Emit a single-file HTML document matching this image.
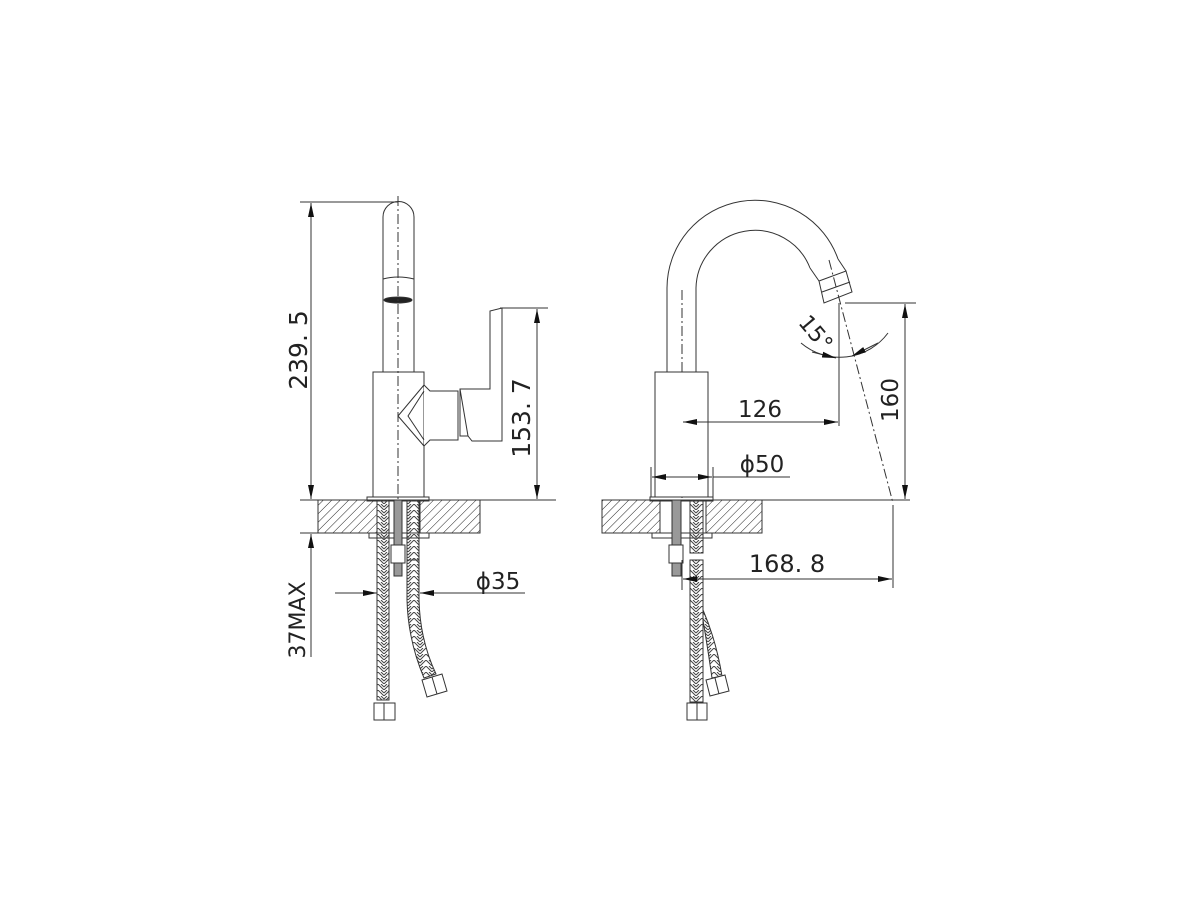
<!DOCTYPE html>
<html><head><meta charset="utf-8"><style>
html,body{margin:0;padding:0;background:#fff;}
svg{display:block;}
text{font-family:"DejaVu Sans","Liberation Sans",sans-serif;fill:#222;}
</style></head><body>
<svg width="1200" height="900" viewBox="0 0 1200 900" xmlns="http://www.w3.org/2000/svg">
<defs>
<pattern id="hatch" width="6" height="6" patternUnits="userSpaceOnUse" patternTransform="rotate(45)">
<line x1="0" y1="0" x2="0" y2="6" stroke="#222" stroke-width="1"/>
</pattern>
<pattern id="braid" width="12" height="6" patternUnits="userSpaceOnUse">
<polyline points="0,6 6,0 12,6" fill="none" stroke="#444" stroke-width="1"/>
<polyline points="0,3 3,0" fill="none" stroke="#444" stroke-width="1"/>
<polyline points="9,0 12,3" fill="none" stroke="#444" stroke-width="1"/>
</pattern>
<marker id="ar" viewBox="0 0 14 6" refX="14" refY="3" markerWidth="14" markerHeight="6" orient="auto" markerUnits="userSpaceOnUse">
<path d="M0,0 L14,3 L0,6 z" fill="#111"/>
</marker>
</defs>
<g fill="none" stroke="#333" stroke-width="1">

<!-- ===== LEFT VIEW ===== -->
<path d="M383,372 L383,217 A15.5,15.5 0 0 1 414,217 L414,372" fill="#fff"/>
<path d="M383,279 Q398,275 414,279"/>
<ellipse cx="398" cy="300" rx="14" ry="3" fill="#222"/>
<rect x="373" y="372" width="51" height="125" fill="#fff"/>
<rect x="367" y="497" width="62" height="4"/>
<path d="M424,385 L430,391 L458,391 L458,440 L430,440 L424,446" fill="#fff"/>
<path d="M424,385 L398,416 L424,446"/>
<path d="M424,391 L408,416 L424,440"/>
<path d="M460,389 L490,389 L490,311 L502,308 L502,441 L472,441 L468,436 L460,436 Z" fill="#fff"/>
<path d="M460,389 L468,436"/>
<line x1="398" y1="196" x2="398" y2="500" stroke-dasharray="10,3,2,3"/>
<line x1="300" y1="202" x2="398" y2="202"/>
<line x1="311" y1="330" x2="311" y2="203" marker-end="url(#ar)"/>
<line x1="311" y1="330" x2="311" y2="499" marker-end="url(#ar)"/>
<line x1="500" y1="308" x2="548" y2="308"/>
<line x1="537" y1="400" x2="537" y2="309" marker-end="url(#ar)"/>
<line x1="537" y1="400" x2="537" y2="499" marker-end="url(#ar)"/>
<line x1="300" y1="500" x2="318" y2="500"/>
<line x1="480" y1="500" x2="556" y2="500"/>
<rect x="318" y="500" width="59" height="33" fill="url(#hatch)"/>
<rect x="420" y="500" width="60" height="33" fill="url(#hatch)"/>
<line x1="318" y1="500" x2="480" y2="500"/>
<line x1="318" y1="533" x2="480" y2="533"/>
<rect x="369" y="533" width="60" height="5" fill="#fff"/>
<rect x="394" y="500" width="8" height="76" fill="#999"/>
<rect x="391" y="545" width="14" height="18" fill="#fff"/>
<rect x="377" y="500" width="12" height="200" fill="url(#braid)"/>
<rect x="407" y="500" width="12" height="60" fill="url(#braid)"/>
<path d="M407,560 L407,600 Q408,640 424,678 L436,674 Q420,640 419,600 L419,560 Z" fill="url(#braid)"/>
<path d="M374,703 L395,703 L395,720 L374,720 Z" fill="#fff"/>
<line x1="384" y1="703" x2="384" y2="720"/>
<path d="M422,680 L442,674 L447,691 L427,697 Z" fill="#fff"/>
<line x1="432" y1="677" x2="437" y2="694"/>
<line x1="300" y1="533" x2="318" y2="533"/>
<line x1="311" y1="600" x2="311" y2="534" marker-end="url(#ar)"/>
<line x1="311" y1="600" x2="311" y2="657"/>
<line x1="335" y1="593" x2="377" y2="593" marker-end="url(#ar)"/>
<line x1="525" y1="593" x2="420" y2="593" marker-end="url(#ar)"/>

<!-- ===== RIGHT VIEW ===== -->
<path d="M667,372 L667,288 A88,88 0 0 1 838,259" fill="none"/>
<path d="M696,372 L696,288 A59,59 0 0 1 810,268" fill="none"/>
<path d="M838,259 L846,271 M810,268 L819,281"/>
<path d="M819,281 L846,271 L852,292 L824,303 Z" fill="#fff"/>
<line x1="682" y1="290" x2="682" y2="500" stroke-dasharray="10,3,2,3"/>
<rect x="655" y="372" width="53" height="125" fill="#fff"/>
<rect x="650" y="497" width="63" height="4"/>
<line x1="829" y1="260" x2="893" y2="503" stroke-dasharray="10,3,2,3"/>
<line x1="822" y1="292" x2="850" y2="282"/>
<line x1="839" y1="303" x2="839" y2="426"/>
<line x1="845" y1="303" x2="916" y2="303"/>
<path d="M801,343 A60,60 0 0 0 888,333"/>
<path d="M812,352 L836,358" marker-end="url(#ar)"/>
<path d="M878,343 L852,356" marker-end="url(#ar)"/>
<line x1="905" y1="400" x2="905" y2="304" marker-end="url(#ar)"/>
<line x1="905" y1="400" x2="905" y2="499" marker-end="url(#ar)"/>
<line x1="760" y1="422" x2="683" y2="422" marker-end="url(#ar)"/>
<line x1="760" y1="422" x2="838" y2="422" marker-end="url(#ar)"/>
<line x1="651" y1="467" x2="651" y2="497"/>
<line x1="713" y1="467" x2="713" y2="497"/>
<line x1="682" y1="477" x2="652" y2="477" marker-end="url(#ar)"/>
<line x1="682" y1="477" x2="712" y2="477" marker-end="url(#ar)"/>
<line x1="713" y1="477" x2="790" y2="477"/>
<rect x="602" y="500" width="58" height="33" fill="url(#hatch)"/>
<rect x="706" y="500" width="56" height="33" fill="url(#hatch)"/>
<line x1="602" y1="500" x2="910" y2="500"/>
<line x1="602" y1="533" x2="762" y2="533"/>
<rect x="652" y="533" width="60" height="5" fill="#fff"/>
<rect x="672" y="500" width="9" height="76" fill="#999"/>
<rect x="669" y="545" width="14" height="18" fill="#fff"/>
<rect x="690" y="500" width="13" height="53" fill="url(#braid)"/>
<path d="M703,620 Q708,650 712,678 L722,676 Q716,640 703,610 Z" fill="url(#braid)"/>
<rect x="690" y="560" width="13" height="142" fill="url(#braid)"/>
<path d="M687,703 L707,703 L707,720 L687,720 Z" fill="#fff"/>
<line x1="697" y1="703" x2="697" y2="720"/>
<path d="M706,680 L725,675 L729,691 L710,696 Z" fill="#fff"/>
<line x1="715" y1="678" x2="719" y2="694"/>
<line x1="893" y1="505" x2="893" y2="588"/>
<line x1="682" y1="560" x2="682" y2="590"/>
<line x1="700" y1="579" x2="683" y2="579" marker-end="url(#ar)"/>
<line x1="700" y1="579" x2="892" y2="579" marker-end="url(#ar)"/>
</g>

<text x="0" y="0" font-size="25" text-anchor="middle" transform="translate(307,350) rotate(-90)">239. 5</text>
<text x="0" y="0" font-size="25" text-anchor="middle" transform="translate(530,418) rotate(-90)">153. 7</text>
<text x="0" y="0" font-size="22" text-anchor="middle" transform="translate(305,620) rotate(-90)">37MAX</text>
<text x="498" y="589" font-size="23" text-anchor="middle">ϕ35</text>
<text x="760" y="417" font-size="23" text-anchor="middle">126</text>
<text x="762" y="472" font-size="23" text-anchor="middle">ϕ50</text>
<text x="898" y="400" font-size="23" text-anchor="middle" transform="rotate(-90 898 400)">160</text>
<text x="787" y="572" font-size="24" text-anchor="middle">168. 8</text>
<text x="0" y="0" font-size="22" text-anchor="middle" transform="translate(810,338) rotate(50)">15°</text>
</svg>
</body></html>
